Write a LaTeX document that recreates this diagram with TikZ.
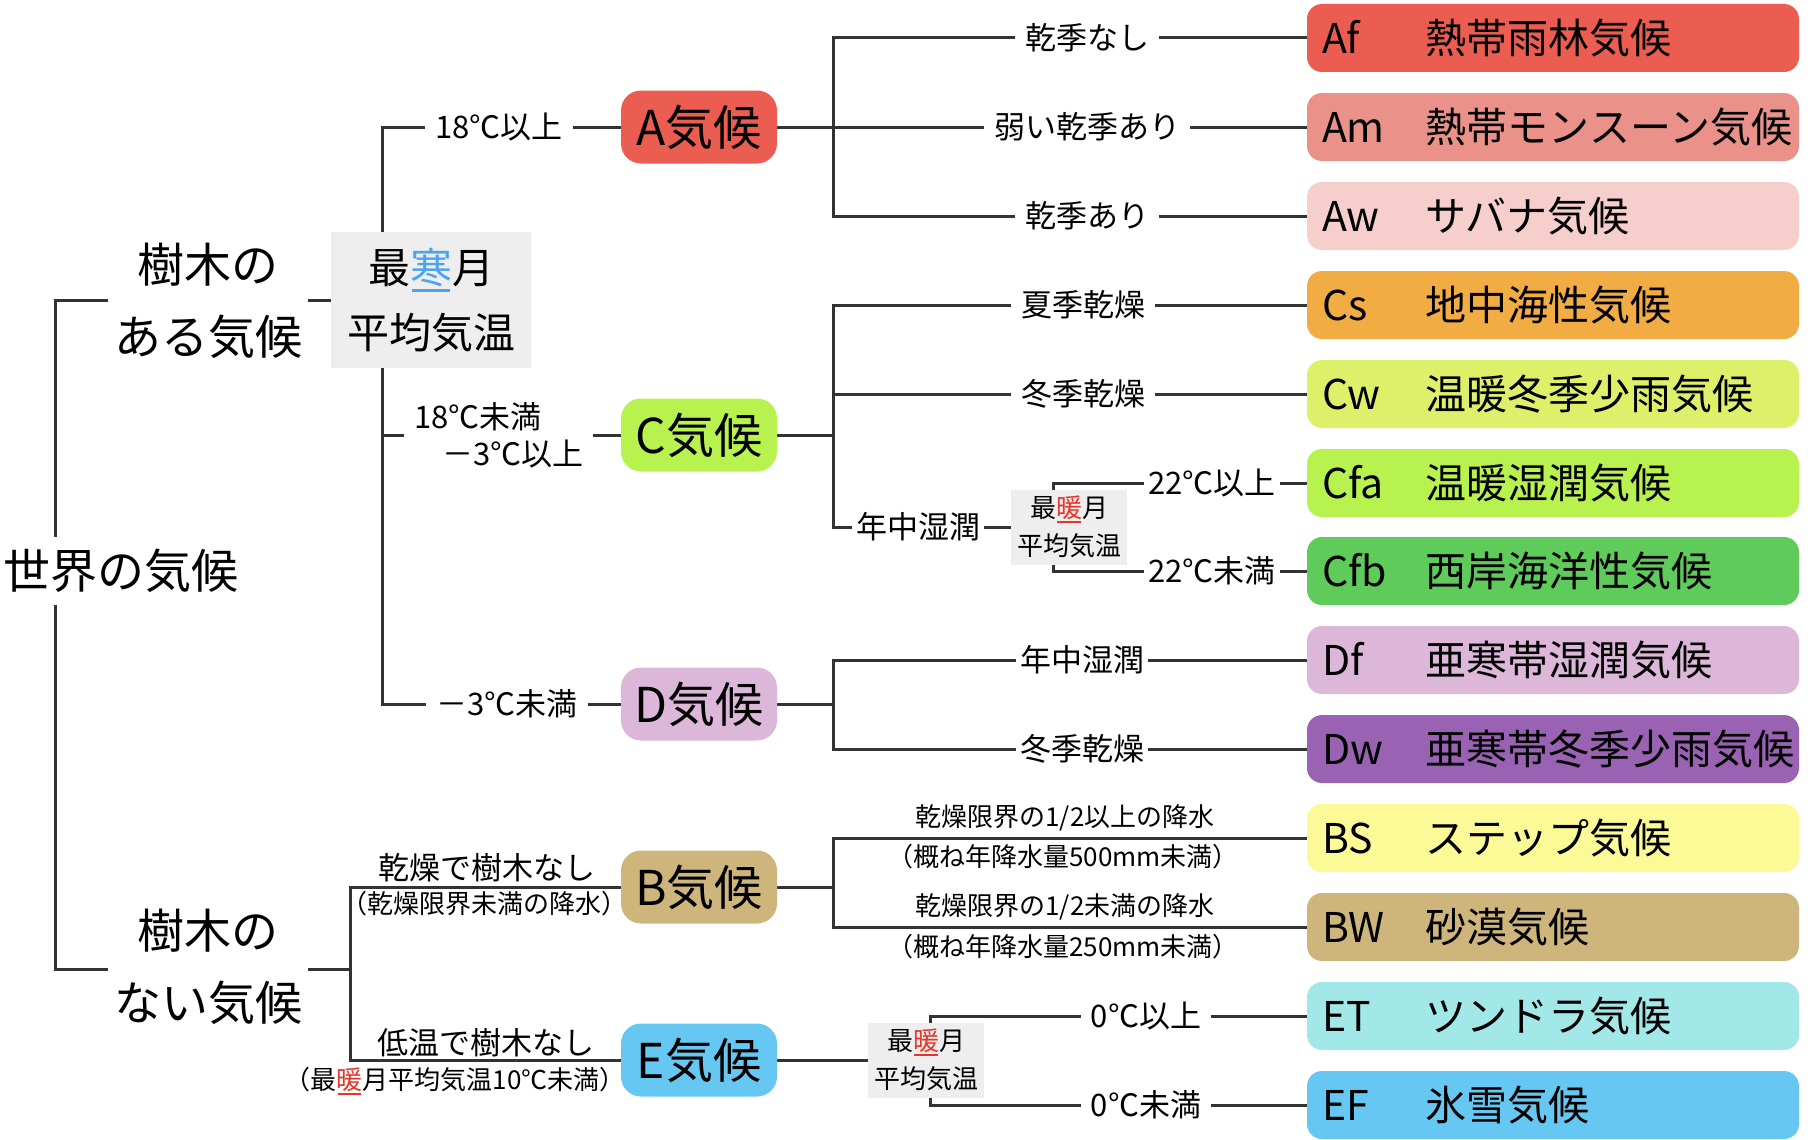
\documentclass[tikz,border=0pt]{standalone}
\usepackage{fontspec}
\setmainfont{Noto Sans CJK JP}
\usetikzlibrary{backgrounds}

\definecolor{linegray}{HTML}{333333}
\definecolor{boxgray}{HTML}{EEEEEE}
\definecolor{coldblue}{HTML}{4DA3F0}
\definecolor{warmred}{HTML}{E8352A}
\definecolor{afred}{HTML}{EB5C51}
\definecolor{ampink}{HTML}{EA918A}
\definecolor{awpink}{HTML}{F6CFCD}
\definecolor{csorange}{HTML}{F2AC44}
\definecolor{cwlime}{HTML}{DEF06A}
\definecolor{cfalime}{HTML}{B8F24E}
\definecolor{cfbgreen}{HTML}{5ECB5A}
\definecolor{dflilac}{HTML}{DDB7D9}
\definecolor{dwpurple}{HTML}{9A62B3}
\definecolor{bsyellow}{HTML}{FBFA96}
\definecolor{bwtan}{HTML}{CDB57B}
\definecolor{etcyan}{HTML}{A3E8E8}
\definecolor{efblue}{HTML}{66C8F2}

\newcommand{\setsz}[2]{\fontsize{#1}{#2}\selectfont}
\newcommand{\kanmark}[2]{{\color{#1}\rlap{\hspace{0.05em}\rule[-0.2em]{0.9em}{0.06em}}#2}}

\tikzset{
  branch/.style={draw=linegray, line width=3pt},
  big/.style={font=\setsz{47}{72}},
  cat/.style={rounded corners=20pt, minimum width=156pt, minimum height=73pt, inner sep=0pt, font=\setsz{48}{58}},
  clim/.style={rounded corners=15pt, minimum height=68pt, text width=462pt, inner xsep=15pt, inner ysep=0pt, align=left, font=\setsz{41}{49}},
  cond/.style={fill=white, inner xsep=10pt, inner ysep=4pt, font=\setsz{31}{37}},
  note/.style={inner sep=0pt, font=\setsz{26}{31}},
  graybox/.style={fill=boxgray, align=center, inner sep=0pt}
}

\begin{document}
\begin{tikzpicture}[x=1pt, y=-1pt]
\useasboundingbox (0,0) rectangle (1815,1140);

\node[big, fill=white, inner xsep=8pt, inner ysep=12pt] (root) at (121,571) {世界の気候};
\node[big, fill=white, align=center, inner sep=6pt] (tree) at (208,301) {樹木の\\ある気候};
\node[big, fill=white, align=center, inner sep=6pt] (notree) at (208,967) {樹木の\\ない気候};

\node[graybox, minimum width=200pt, minimum height=136pt, font=\setsz{42}{65}] (cold) at (431,300) {最\kanmark{coldblue}{寒}月\\平均気温};

\node[cat, fill=afred] (abox) at (699,127) {A気候};
\node[cat, fill=cfalime] (cbox) at (699,435) {C気候};
\node[cat, fill=dflilac] (dbox) at (699,704) {D気候};
\node[cat, fill=bwtan] (bbox) at (699,887) {B気候};
\node[cat, fill=efblue] (ebox) at (699,1060) {E気候};

\node[cond] (c18up) at (499,127) {18℃以上};
\node[cond, anchor=west, align=left] (c18mid) at (404,435) {18℃未満\\\hspace*{28pt}－3℃以上};
\node[cond] (c3low) at (507,704) {－3℃未満};

\node[note, font=\setsz{31}{37}] (bnote) at (487,868) {乾燥で樹木なし};
\node[note] (bnote2) at (484,904) {（乾燥限界未満の降水）};
\node[note, font=\setsz{31}{37}] (enote) at (486,1043) {低温で樹木なし};
\node[note] (enote2) at (455,1081) {（最\kanmark{warmred}{暖}月平均気温10℃未満）};

\node[clim, fill=afred] (af) at (1553,38) {\makebox[104pt][l]{Af}熱帯雨林気候};
\node[clim, fill=ampink] (am) at (1553,127) {\makebox[104pt][l]{Am}熱帯モンスーン気候};
\node[clim, fill=awpink] (aw) at (1553,216) {\makebox[104pt][l]{Aw}サバナ気候};
\node[clim, fill=csorange] (cs) at (1553,305) {\makebox[104pt][l]{Cs}地中海性気候};
\node[clim, fill=cwlime] (cw) at (1553,394) {\makebox[104pt][l]{Cw}温暖冬季少雨気候};
\node[clim, fill=cfalime] (cfa) at (1553,483) {\makebox[104pt][l]{Cfa}温暖湿潤気候};
\node[clim, fill=cfbgreen] (cfb) at (1553,571) {\makebox[104pt][l]{Cfb}西岸海洋性気候};
\node[clim, fill=dflilac] (df) at (1553,660) {\makebox[104pt][l]{Df}亜寒帯湿潤気候};
\node[clim, fill=dwpurple] (dw) at (1553,749) {\makebox[104pt][l]{Dw}亜寒帯冬季少雨気候};
\node[clim, fill=bsyellow] (bs) at (1553,838) {\makebox[104pt][l]{BS}ステップ気候};
\node[clim, fill=bwtan] (bw) at (1553,927) {\makebox[104pt][l]{BW}砂漠気候};
\node[clim, fill=etcyan] (et) at (1553,1016) {\makebox[104pt][l]{ET}ツンドラ気候};
\node[clim, fill=efblue] (ef) at (1553,1105) {\makebox[104pt][l]{EF}氷雪気候};

\node[cond] (afcond) at (1087,38) {乾季なし};
\node[cond] (amcond) at (1087,127) {弱い乾季あり};
\node[cond] (awcond) at (1087,216) {乾季あり};
\node[cond] (cscond) at (1083,305) {夏季乾燥};
\node[cond] (cwcond) at (1083,394) {冬季乾燥};
\node[cond, inner xsep=4pt] (cfcond) at (918,527) {年中湿潤};
\node[graybox, minimum width=116pt, minimum height=75pt, font=\setsz{26}{38}] (warma) at (1069,527) {最\kanmark{warmred}{暖}月\\平均気温};
\node[cond, inner xsep=4pt] (cfacond) at (1212,483) {22℃以上};
\node[cond, inner xsep=4pt] (cfbcond) at (1212,571) {22℃未満};
\node[cond, inner xsep=4pt] (dfcond) at (1082,660) {年中湿潤};
\node[cond, inner xsep=4pt] (dwcond) at (1082,749) {冬季乾燥};

\node[note] (bsnote) at (1065,818) {乾燥限界の1/2以上の降水};
\node[note] (bsnote2) at (1063,857) {（概ね年降水量500mm未満）};
\node[note] (bwnote) at (1065,907) {乾燥限界の1/2未満の降水};
\node[note] (bwnote2) at (1063,947) {（概ね年降水量250mm未満）};

\node[graybox, minimum width=116pt, minimum height=75pt, font=\setsz{26}{38}] (warmb) at (926,1060) {最\kanmark{warmred}{暖}月\\平均気温};
\node[cond] (etcond) at (1146,1016) {0℃以上};
\node[cond] (efcond) at (1146,1105) {0℃未満};

\coordinate (rootbot) at (55,969);
\coordinate (nosplit) at (350,969);
\coordinate (coldsplit) at (382,704);
\coordinate (asplit) at (833,127);
\coordinate (csplit) at (833,527);
\coordinate (wsplit) at (1053,571);
\coordinate (dsplit) at (833,749);
\coordinate (bsplit) at (833,927);
\coordinate (esplit) at (930,1105);

\begin{pgfonlayer}{background}
\draw[branch] (cold.west) -| (rootbot) -- (nosplit);
\draw[branch] (bbox.west) -| (nosplit) |- (ebox.west);
\draw[branch] (abox.west) -| (coldsplit) -- (dbox.west);
\draw[branch] (cbox.west) -- (cbox.west -| coldsplit);

\draw[branch] (abox.east) -- (am.west);
\draw[branch] (af.west) -| (asplit) |- (aw.west);

\draw[branch] (cbox.east) -- (cbox.east -| csplit);
\draw[branch] (cs.west) -| (csplit) -- (warma.west);
\draw[branch] (cw.west) -- (cw.west -| csplit);
\draw[branch] (cfa.west) -| (wsplit) -- (cfb.west);

\draw[branch] (dbox.east) -- (dbox.east -| dsplit);
\draw[branch] (df.west) -| (dsplit) -- (dw.west);

\draw[branch] (bbox.east) -- (bbox.east -| bsplit);
\draw[branch] (bs.west) -| (bsplit) -- (bw.west);

\draw[branch] (ebox.east) -- (warmb.west);
\draw[branch] (et.west) -| (esplit) -- (ef.west);
\end{pgfonlayer}
\end{tikzpicture}
\end{document}
